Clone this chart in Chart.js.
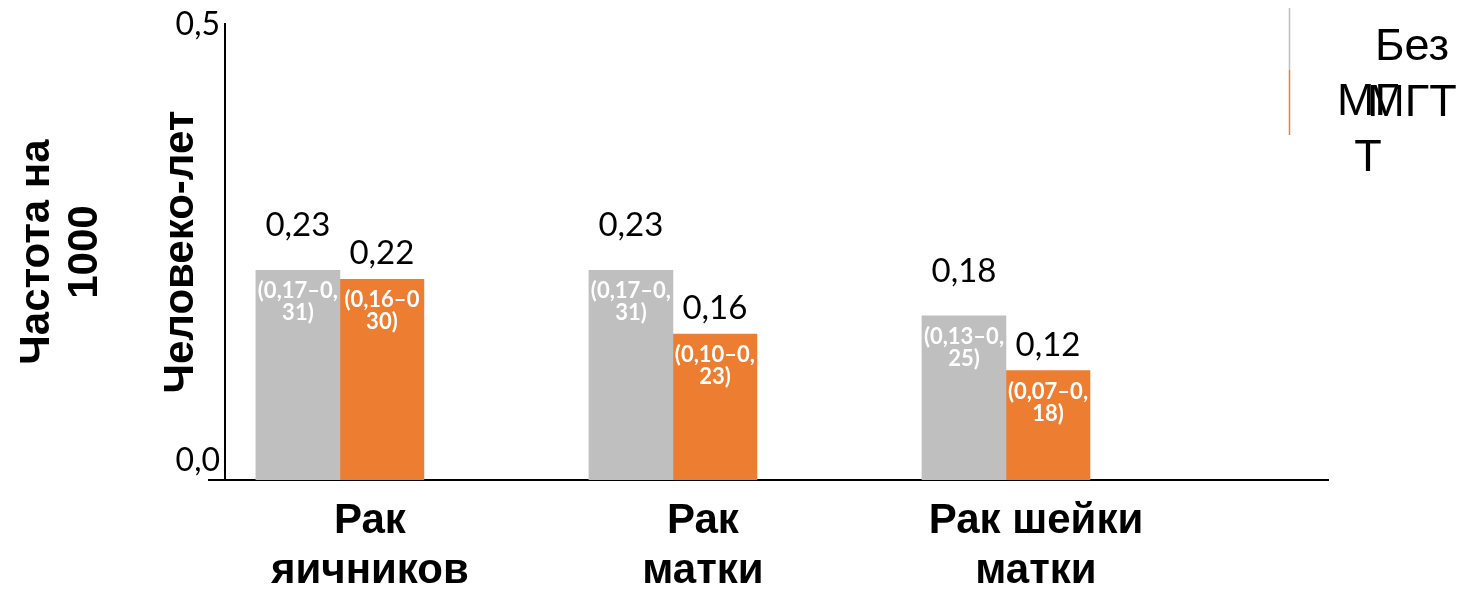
<!DOCTYPE html>
<html>
<head>
<meta charset="utf-8">
<script src="https://cdn.jsdelivr.net/npm/chart.js@4/dist/chart.umd.min.js"></script>
<style>
  html, body { margin: 0; padding: 0; background: #ffffff; }
  #wrap { width: 1465px; height: 591px; }
</style>
</head>
<body>
<div id="wrap"><canvas id="chart" width="1465" height="591"></canvas></div>
<script>
// Categories (multi-line axis labels)
const categories = [["Рак", "яичников"], ["Рак", "матки"], ["Рак шейки", "матки"]];
// Series names
const seriesNames = ["Без МГТ", "МГТ"];
// Incidence per 1000 person-years
const withoutHrt = [0.23, 0.23, 0.18];
const withHrt = [0.22, 0.16, 0.12];
// 95% confidence intervals, as printed inside the bars
const withoutHrtCI = [["(0,17–0,", "31)"], ["(0,17–0,", "31)"], ["(0,13–0,", "25)"]];
const withHrtCI = [["(0,16–0", "30)"], ["(0,10–0,", "23)"], ["(0,07–0,", "18)"]];
// Legend text as it wraps in the legend box
const legendLines = [["Без", "МГТ"], ["МГ", "Т"]];
// Y axis ticks and title
const yTicks = [0, 0.5];
const yTitle = ["Частота на", "1000", "", "Человеко-лет"];

const GREY = "#BFBFBF";
const ORANGE = "#ED7D31";

const fmt = (v, d) => v.toFixed(d).replace(".", ",");

// Values above bars and CI text inside bars
const barLabels = {
  id: "barLabels",
  afterDatasetsDraw(chart) {
    const ctx = chart.ctx;
    ctx.save();
    ctx.textAlign = "center";
    ctx.textBaseline = "alphabetic";
    chart.data.datasets.forEach((ds, di) => {
      const meta = chart.getDatasetMeta(di);
      meta.data.forEach((bar, i) => {
        const v = ds.data[i].y;
        ctx.fillStyle = "#000000";
        ctx.font = "33px Lato";
        ctx.fillText(fmt(v, 2), bar.x, bar.y - ds.valueGap);
        ctx.fillStyle = "#ffffff";
        ctx.font = "bold 22px Lato";
        ds.ci[i].forEach((line, k) => {
          ctx.fillText(line, bar.x, bar.y + 28 + k * 22);
        });
      });
    });
    ctx.restore();
  }
};

// Legend: thin colour strip plus wrapped series names
const sideLegend = {
  id: "sideLegend",
  afterDraw(chart, args, opts) {
    const ctx = chart.ctx;
    const ds = chart.data.datasets;
    ctx.save();
    ctx.lineWidth = 1.5;
    ctx.strokeStyle = ds[0].backgroundColor;
    ctx.beginPath();
    ctx.moveTo(opts.stripX, opts.stripTop);
    ctx.lineTo(opts.stripX, opts.stripMid);
    ctx.stroke();
    ctx.strokeStyle = ds[1].backgroundColor;
    ctx.beginPath();
    ctx.moveTo(opts.stripX, opts.stripMid);
    ctx.lineTo(opts.stripX, opts.stripBottom);
    ctx.stroke();
    ctx.fillStyle = "#000000";
    ctx.font = '45px "Liberation Sans"';
    ctx.textAlign = "center";
    ctx.textBaseline = "alphabetic";
    legendLines.forEach((lines, i) => {
      const e = opts.entries[i];
      lines.forEach((t, k) => ctx.fillText(t, e.cx, e.y + k * opts.lineStep));
    });
    ctx.restore();
  }
};

// Short stub of the category axis to the left of the value axis
const axisStub = {
  id: "axisStub",
  afterDraw(chart, args, opts) {
    const { ctx, chartArea } = chart;
    ctx.save();
    ctx.strokeStyle = "#000000";
    ctx.lineWidth = 2;
    ctx.beginPath();
    ctx.moveTo(chartArea.left - opts.length, chartArea.bottom);
    ctx.lineTo(chartArea.left, chartArea.bottom);
    ctx.stroke();
    ctx.restore();
  }
};

const toPoints = arr => arr.map((y, x) => ({ x, y }));

new Chart(document.getElementById("chart"), {
  type: "bar",
  data: {
    datasets: [
      { label: seriesNames[0], data: toPoints(withoutHrt), backgroundColor: GREY, ci: withoutHrtCI, valueGap: 34 },
      { label: seriesNames[1], data: toPoints(withHrt), backgroundColor: ORANGE, ci: withHrtCI, valueGap: 15 }
    ]
  },
  options: {
    responsive: false,
    animation: false,
    layout: { padding: { left: 0, top: 22, right: 137, bottom: 0 } },
    datasets: { bar: { barThickness: 84 } },
    plugins: {
      legend: { display: false },
      tooltip: { enabled: false },
      sideLegend: {
        stripX: 1289.5, stripTop: 8, stripMid: 70, stripBottom: 135,
        entries: [{ cx: 1412, y: 60 }, { cx: 1368, y: 115 }],
        lineStep: 56
      },
      axisStub: { length: 17 }
    },
    scales: {
      x: {
        type: "linear",
        offset: false,
        min: -0.345,
        max: 2.967,
        grid: { display: false, drawTicks: false },
        border: { display: true, color: "#000000", width: 2 },
        afterBuildTicks: s => { s.ticks = categories.map((c, i) => ({ value: i })); },
        afterFit: s => { s.height = 111; },
        ticks: {
          callback: v => categories[v],
          autoSkip: false,
          maxRotation: 0,
          padding: 16,
          labelOffset: 30,
          color: "#000000",
          font: { family: "Liberation Sans", weight: "bold", size: 42, lineHeight: "50px" }
        }
      },
      y: {
        min: 0,
        max: 0.5,
        afterBuildTicks: s => { s.ticks = yTicks.map(v => ({ value: v })); },
        afterFit: s => { s.width = 225; },
        grid: { display: false, drawTicks: false },
        border: { display: true, color: "#000000", width: 2 },
        ticks: {
          padding: 5,
          color: "#000000",
          font: { family: "Lato", size: 32 },
          callback: v => (v === 0 ? [fmt(v, 1), ""] : fmt(v, 1))
        },
        title: {
          display: true,
          text: yTitle,
          color: "#000000",
          padding: { top: 13, bottom: 0 },
          font: { family: "Liberation Sans", weight: "bold", size: 42, lineHeight: "48px" }
        }
      }
    }
  },
  plugins: [barLabels, sideLegend, axisStub]
});
</script>
</body>
</html>
